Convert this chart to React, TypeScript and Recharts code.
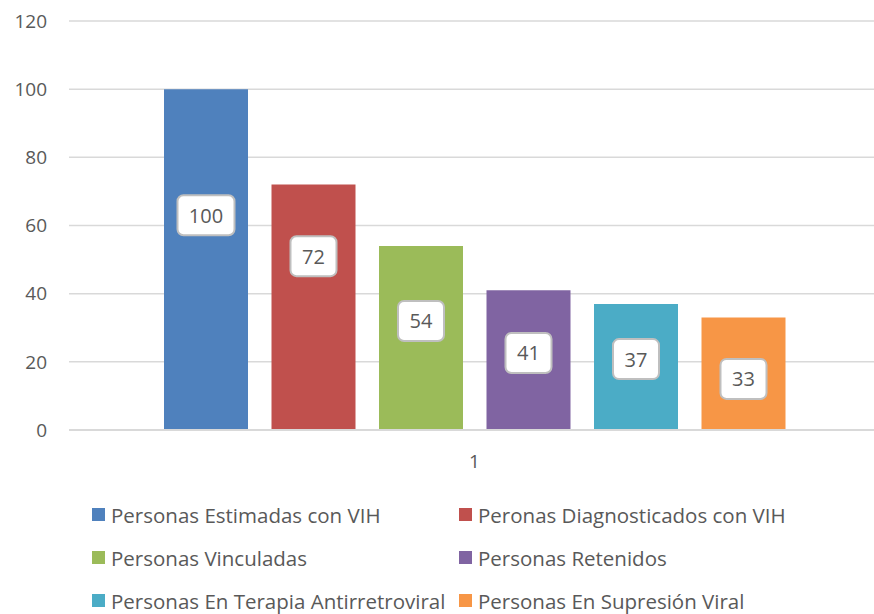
import { BarChart, Bar, XAxis, YAxis, CartesianGrid, Legend } from "recharts";

const categories = ["1"];
const seriesNames = [
  "Personas Estimadas con VIH",
  "Peronas Diagnosticados con VIH",
  "Personas Vinculadas",
  "Personas Retenidos",
  "Personas En Terapia Antirretroviral",
  "Personas En Supresión Viral",
];
const seriesValues = [100, 72, 54, 41, 37, 33];
// where each data label box sits, in axis units
const labelAt = [63, 51, 32, 22.6, 20.8, 15];
const yTicks = [0, 20, 40, 60, 80, 100, 120];

const colors = ["#4F81BD", "#C0504D", "#9BBB59", "#8064A2", "#4BACC6", "#F79646"];
const FONT = "'Open Sans', 'Noto Sans', sans-serif";
const TEXT = "#595959";

const data = categories.map((c) => {
  const row: Record<string, string | number> = { name: c };
  seriesValues.forEach((v, i) => (row[`s${i}`] = v));
  return row;
});

const makeLabel = (i: number) => (props: any) => {
  const { x, y, width, height, value } = props;
  const cy = y + height - (height * labelAt[i]) / value;
  const cx = x + width / 2;
  const txt = String(value);
  const w = txt.length * 11 + 24;
  const h = 40;
  return (
    <g>
      <rect x={cx - w / 2} y={cy - h / 2} width={w} height={h} rx={6} ry={6} fill="#fff" stroke="#BFBFBF" strokeWidth={2} />
      <text x={cx} y={cy} textAnchor="middle" dominantBaseline="central" fontSize={20} fontFamily={FONT} fill={TEXT}>
        {txt}
      </text>
    </g>
  );
};

const LegendBox = () => (
  <div style={{ height: 144, paddingTop: 23, boxSizing: "border-box", fontFamily: FONT, fontSize: 20.5, color: TEXT }}>
    <div style={{ display: "grid", gridTemplateColumns: "367px 410px", paddingLeft: 92 }}>
      {seriesNames.map((n, i) => (
        <div key={n} style={{ display: "flex", alignItems: "center", height: 43, whiteSpace: "nowrap" }}>
          <span style={{ width: 13, height: 13, background: colors[i], marginRight: 6, display: "inline-block", flexShrink: 0 }} />
          {n}
        </div>
      ))}
    </div>
  </div>
);

export default function App() {
  return (
    <div style={{ position: "absolute", left: 0, top: 0, width: 874, height: 614, overflow: "hidden", background: "#fff" }}>
      <BarChart
        width={880}
        height={614}
        data={data}
        margin={{ top: 21, right: 0, bottom: 0, left: 0 }}
        barCategoryGap="11.5%"
        barGap={23.5}
      >
        <CartesianGrid vertical={false} stroke="#D9D9D9" strokeWidth={1.5} />
        <XAxis
          dataKey="name"
          height={40}
          tickLine={false}
          axisLine={{ stroke: "#D9D9D9", strokeWidth: 2 }}
          tickMargin={19}
          tick={{ fill: TEXT, fontSize: 19, fontFamily: FONT }}
        />
        <YAxis
          width={69}
          domain={[0, 120]}
          ticks={yTicks}
          axisLine={false}
          tickLine={false}
          tickMargin={16}
          tick={{ fill: TEXT, fontSize: 19, fontFamily: FONT }}
        />
        <Legend verticalAlign="bottom" content={<LegendBox />} />
        {seriesNames.map((n, i) => (
          <Bar key={n} dataKey={`s${i}`} name={n} fill={colors[i]} barSize={84} isAnimationActive={false} label={makeLabel(i)} />
        ))}
      </BarChart>
    </div>
  );
}
